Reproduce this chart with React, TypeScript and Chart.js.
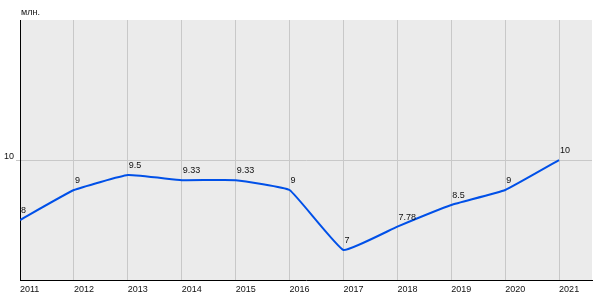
import React, { useEffect, useRef } from 'react';
import { Chart, registerables } from 'chart.js';

Chart.register(...registerables);

const years = [2011, 2012, 2013, 2014, 2015, 2016, 2017, 2018, 2019, 2020, 2021];
const values = [8, 9, 9.5, 9.33, 9.33, 9, 7, 7.78, 8.5, 9, 10];
const valueLabels = ['8', '9', '9.5', '9.33', '9.33', '9', '7', '7.78', '8.5', '9', '10'];
const yTicks = [10];
const unitLabel = 'млн.';

const FONT = '"Liberation Sans", Arial, sans-serif';

export default function App() {
  const ref = useRef<HTMLCanvasElement | null>(null);

  useEffect(() => {
    if (!ref.current) return;

    const bgPlugin = {
      id: 'plotBg',
      beforeDraw(chart: any) {
        const { ctx, chartArea } = chart;
        ctx.save();
        ctx.fillStyle = '#ebebeb';
        ctx.fillRect(chartArea.left, chartArea.top, chartArea.right - chartArea.left, chartArea.bottom - chartArea.top);
        ctx.restore();
      },
    };

    const labelPlugin = {
      id: 'valueLabels',
      afterDatasetsDraw(chart: any) {
        const { ctx, chartArea } = chart;
        const meta = chart.getDatasetMeta(0);
        ctx.save();
        ctx.font = `9px ${FONT}`;
        ctx.fillStyle = '#111';
        ctx.textAlign = 'left';
        ctx.textBaseline = 'alphabetic';
        meta.data.forEach((pt: any, i: number) => {
          ctx.fillText(valueLabels[i], pt.x + 1, pt.y - 7);
        });
        ctx.fillText(unitLabel, chartArea.left + 1, chartArea.top - 5);
        ctx.restore();
      },
    };

    const chart = new Chart(ref.current, {
      type: 'line',
      data: {
        datasets: [
          {
            data: years.map((y, i) => ({ x: y, y: values[i] })),
            borderColor: '#0050e8',
            borderWidth: 2,
            pointRadius: 0,
            tension: 0.1,
            fill: false,
          },
        ],
      },
      options: {
        animation: false,
        responsive: true,
        maintainAspectRatio: false,
        layout: { padding: { top: 20, right: 8, left: 0, bottom: 0 } },
        plugins: { legend: { display: false }, tooltip: { enabled: false } },
        scales: {
          x: {
            type: 'linear',
            min: 2011,
            max: 2021.61,
            afterBuildTicks: (scale: any) => {
              scale.ticks = years.map((v) => ({ value: v }));
            },
            afterFit: (scale: any) => {
              scale.height = 20;
            },
            grid: { color: '#c8c8c8', drawTicks: false },
            border: { color: '#000', width: 1 },
            ticks: {
              autoSkip: false,
              maxRotation: 0,
              align: 'start',
              padding: 4,
              color: '#111',
              font: { family: FONT, size: 9 },
              callback: (v: any) => String(v),
            },
          },
          y: {
            type: 'linear',
            min: 6,
            max: 14.67,
            afterBuildTicks: (scale: any) => {
              scale.ticks = yTicks.map((v) => ({ value: v }));
            },
            afterFit: (scale: any) => {
              scale.width = 20;
            },
            grid: { color: '#c8c8c8', tickLength: 4 },
            border: { color: '#000', width: 1 },
            ticks: {
              padding: 2,
              labelOffset: -4,
              color: '#111',
              font: { family: FONT, size: 9 },
              callback: (v: any) => String(v),
            },
          },
        },
      },
      plugins: [bgPlugin, labelPlugin],
    } as any);

    return () => chart.destroy();
  }, []);

  return (
    <div style={{ position: 'fixed', left: 0, top: 0, width: 600, height: 300, background: '#fff' }}>
      <canvas ref={ref} />
    </div>
  );
}
